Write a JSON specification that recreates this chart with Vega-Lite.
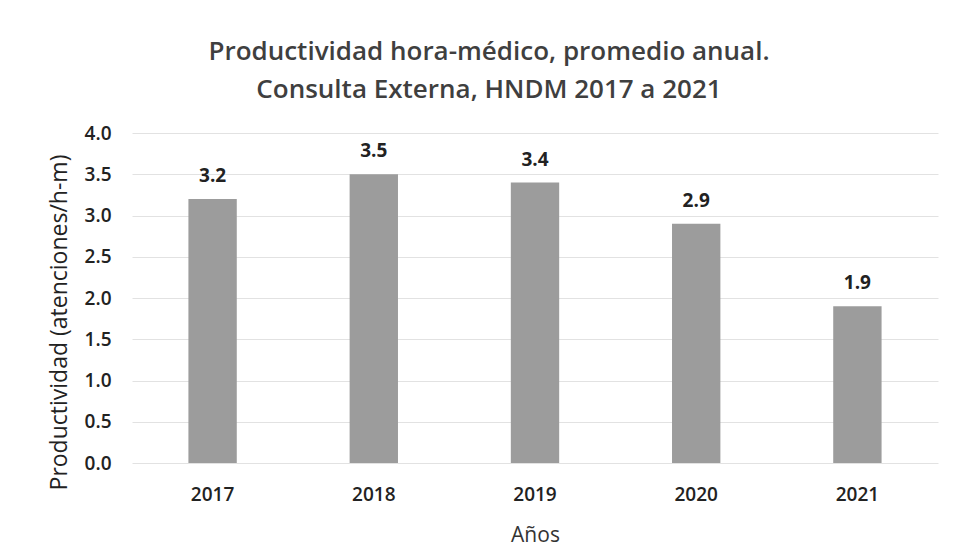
{
  "$schema": "https://vega.github.io/schema/vega-lite/v6.json",
  "autosize": "none",
  "width": 806,
  "height": 330,
  "padding": {"left": 132, "top": 133, "right": 17, "bottom": 83},
  "background": "#ffffff",
  "title": {
    "text": ["Productividad hora-médico, promedio anual.", "Consulta Externa, HNDM 2017 a 2021"],
    "font": "Open Sans",
    "fontSize": 26,
    "fontWeight": 600,
    "color": "#3f3f3f",
    "anchor": "middle",
    "dx": -46,
    "offset": 21,
    "lineHeight": 38
  },
  "data": {
    "values": [
      {"year": "2017", "value": 3.2},
      {"year": "2018", "value": 3.5},
      {"year": "2019", "value": 3.4},
      {"year": "2020", "value": 2.9},
      {"year": "2021", "value": 1.9}
    ]
  },
  "encoding": {
    "x": {
      "field": "year",
      "type": "nominal",
      "title": "Años",
      "scale": {"paddingInner": 0.7, "paddingOuter": 0.35},
      "axis": {
        "labelAngle": 0,
        "labelFont": "Open Sans",
        "labelFontSize": 19,
        "labelFontWeight": 600,
        "labelColor": "#222222",
        "labelPadding": 22,
        "ticks": false,
        "domain": false,
        "titleFont": "Open Sans",
        "titleFontSize": 21,
        "titleFontWeight": "normal",
        "titleColor": "#333333",
        "titlePadding": 20
      }
    },
    "y": {
      "field": "value",
      "type": "quantitative",
      "title": "Productividad (atenciones/h-m)",
      "scale": {"domain": [0, 4]},
      "axis": {
        "values": [0, 0.5, 1, 1.5, 2, 2.5, 3, 3.5, 4],
        "format": ".1f",
        "labelFont": "Open Sans",
        "labelFontSize": 19,
        "labelFontWeight": 600,
        "labelColor": "#222222",
        "labelPadding": 21,
        "ticks": false,
        "domain": false,
        "grid": true,
        "gridColor": "#e2e2e2",
        "gridWidth": 1,
        "titleFont": "Open Sans",
        "titleFontSize": 23,
        "titleFontWeight": "normal",
        "titleColor": "#222222",
        "titlePadding": 13,
        "titleY": 189
      }
    }
  },
  "layer": [
    {"mark": {"type": "bar", "color": "#9c9c9c"}},
    {
      "mark": {"type": "text", "baseline": "bottom", "dy": -13, "font": "Open Sans", "fontSize": 19, "fontWeight": "bold", "color": "#222222"},
      "encoding": {"text": {"field": "value", "type": "quantitative", "format": ".1f"}}
    }
  ],
  "config": {"view": {"stroke": null}}
}
